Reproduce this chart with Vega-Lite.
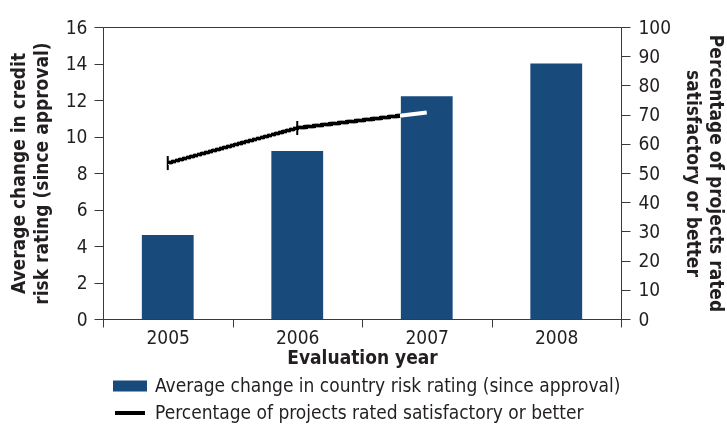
{
  "$schema": "https://vega.github.io/schema/vega-lite/v6.json",
  "autosize": {"type": "none"},
  "width": 518,
  "height": 292,
  "padding": {"left": 103, "top": 27, "right": 106, "bottom": 112},
  "background": "white",
  "config": {
    "font": "DejaVu Sans Condensed",
    "view": {"stroke": "#3a3a3a", "strokeWidth": 1},
    "axis": {"labelFontSize": 19, "labelColor": "#231F20", "titleColor": "#231F20", "titleFontSize": 19, "titleFontWeight": "bold", "domainColor": "#3a3a3a", "tickColor": "#3a3a3a", "grid": false, "tickSize": 8, "labelFont": "DejaVu Sans Condensed", "titleFont": "DejaVu Sans Condensed"},
    "legend": {"labelFontSize": 19, "labelColor": "#231F20", "labelLimit": 0, "labelFont": "DejaVu Sans Condensed"}
  },
  "data": {"values": [
    {"year": "2005", "risk": 4.6, "pct": 53.4},
    {"year": "2006", "risk": 9.2, "pct": 65.4},
    {"year": "2007", "risk": 12.2, "pct": 70.7},
    {"year": "2008", "risk": 14.0, "pct": null}
  ]},
  "encoding": {
    "x": {"field": "year", "type": "ordinal", "scale": {"paddingInner": 0, "paddingOuter": 0},
      "axis": {"title": "Evaluation year", "labelAngle": 0, "tickBand": "extent", "labelPadding": 1, "titlePadding": 1}}
  },
  "layer": [
    {
      "transform": [{"filter": "isValid(datum.pct)"}],
      "mark": {"type": "line", "strokeWidth": 4.5},
      "encoding": {
        "y": {"field": "pct", "type": "quantitative", "scale": {"domain": [0, 100]},
          "axis": {"orient": "right", "values": [0,10,20,30,40,50,60,70,80,90,100], "title": ["Percentage of projects rated", "satisfactory or better"], "titleAngle": 90, "titleLineHeight": 23, "titlePadding": 12, "labelPadding": 8, "tickSize": 9}},
        "stroke": {"datum": "Percentage of projects rated satisfactory or better", "type": "nominal",
          "scale": {"range": ["#000000"]},
          "legend": {"title": null, "orient": "none", "legendX": 10, "legendY": 369, "symbolType": "stroke", "symbolSize": 900, "symbolStrokeWidth": 4, "labelOffset": 8}}
      }
    },
    {
      "transform": [{"filter": "isValid(datum.pct)"}],
      "mark": {"type": "tick", "orient": "vertical", "size": 14, "thickness": 2, "color": "#000000", "opacity": 1},
      "encoding": {
        "y": {"field": "pct", "type": "quantitative", "scale": {"domain": [0, 100]}, "axis": null}
      }
    },
    {
      "mark": {"type": "bar", "width": {"band": 0.4}},
      "encoding": {
        "y": {"field": "risk", "type": "quantitative", "scale": {"domain": [0, 16]},
          "axis": {"orient": "left", "values": [0,2,4,6,8,10,12,14,16], "title": ["Average change in credit", "risk rating (since approval)"], "titleLineHeight": 23, "titlePadding": 14, "labelPadding": 7, "tickSize": 9}},
        "fill": {"datum": "Average change in country risk rating (since approval)", "type": "nominal",
          "scale": {"range": ["#184A7C"]},
          "legend": {"title": null, "orient": "none", "legendX": 10, "legendY": 342, "symbolType": "M-1,-0.33H1V0.33H-1Z", "symbolSize": 1156, "symbolStrokeWidth": 0, "labelOffset": 8}}
      }
    },
    {
      "transform": [{"filter": "isValid(datum.pct)"}],
      "mark": {"type": "line", "strokeWidth": 4, "color": "white", "blend": "color-dodge"},
      "encoding": {
        "y": {"field": "pct", "type": "quantitative", "scale": {"domain": [0, 100]}, "axis": null}
      }
    }
  ],
  "resolve": {"scale": {"y": "independent", "stroke": "independent", "fill": "independent"}}
}
